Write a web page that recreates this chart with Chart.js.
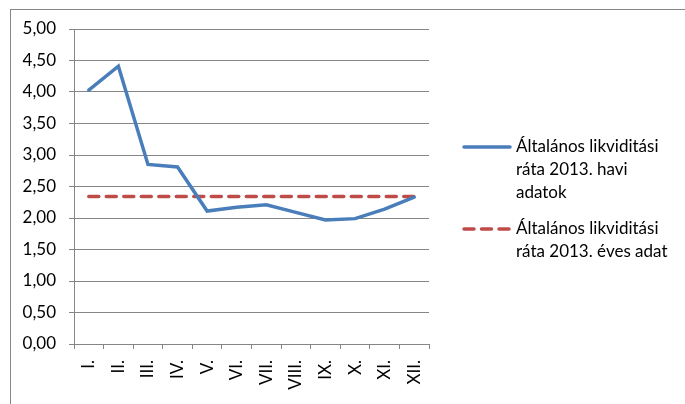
<!DOCTYPE html>
<html>
<head>
<meta charset="utf-8">
<script src="https://cdn.jsdelivr.net/npm/chart.js@4"></script>
<style>
  html, body { margin: 0; padding: 0; background: #fff; }
  #wrap { width: 685px; height: 404px; }
</style>
</head>
<body>
<div id="wrap"><canvas id="chart_plot"></canvas></div>
<script>
// hónapok és értékek
const months = ['I.', 'II.', 'III.', 'IV.', 'V.', 'VI.', 'VII.', 'VIII.', 'IX.', 'X.', 'XI.', 'XII.'];
const haviAdatok = [4.03, 4.41, 2.85, 2.81, 2.11, 2.17, 2.21, 2.09, 1.97, 1.99, 2.14, 2.33];
const evesAdat = [2.34, 2.34, 2.34, 2.34, 2.34, 2.34, 2.34, 2.34, 2.34, 2.34, 2.34, 2.34];
const seriesNames = [
    ['Általános likviditási', 'ráta 2013. havi', 'adatok'],
    ['Általános likviditási', 'ráta 2013. éves adat']
];
const yTicks = [0, 0.5, 1, 1.5, 2, 2.5, 3, 3.5, 4, 4.5, 5];

const FONT = 'Lato, "Open Sans", sans-serif';
const gridColor = '#868686';

// keret a diagram körül
const frame = {
    id: 'frame',
    beforeDraw(chart) {
        const c = chart.ctx;
        c.save();
        c.strokeStyle = gridColor;
        c.lineWidth = 1;
        c.strokeRect(10.5, 9.5, 800, 600);
        c.restore();
    }
};

// többsoros jelmagyarázat
const legendBox = {
    id: 'legendBox',
    afterDraw(chart) {
        const c = chart.ctx;
        const starts = [147, 229];
        c.save();
        c.font = '17px ' + FONT;
        c.fillStyle = '#000';
        c.textBaseline = 'middle';
        chart.data.datasets.forEach(function(ds, i) {
            const y = starts[i];
            c.beginPath();
            c.strokeStyle = ds.borderColor;
            c.lineWidth = ds.borderWidth;
            c.lineCap = ds.borderCapStyle || 'butt';
            c.setLineDash(ds.borderDash || []);
            c.moveTo(464, y);
            c.lineTo(510, y);
            c.stroke();
            c.setLineDash([]);
            seriesNames[i].forEach(function(line, j) {
                c.fillText(line, 516, y + j * 23);
            });
        });
        c.restore();
    }
};

const ctx = document.getElementById('chart_plot');
new Chart(ctx, {
    type: 'line',
    data: {
        labels: months,
        datasets: [{
            label: seriesNames[0].join(' '),
            data: haviAdatok,
            borderColor: '#4A7EBB',
            borderWidth: 3.5,
            borderCapStyle: 'round',
            pointRadius: 0,
            tension: 0,
            fill: false
        }, {
            label: seriesNames[1].join(' '),
            data: evesAdat,
            borderColor: '#BE4B48',
            borderWidth: 3.5,
            borderDash: [10, 7.5],
            borderCapStyle: 'round',
            pointRadius: 0,
            tension: 0,
            fill: false
        }]
    },
    options: {
        responsive: true,
        maintainAspectRatio: false,
        animation: false,
        layout: { padding: { top: 29, right: 256, left: 0, bottom: 0 } },
        plugins: {
            legend: { display: false },
            tooltip: { enabled: false }
        },
        scales: {
            x: {
                offset: true,
                grid: {
                    offset: true,
                    drawOnChartArea: false,
                    color: gridColor,
                    tickLength: 5
                },
                border: { color: gridColor },
                ticks: {
                    color: '#000',
                    font: { family: FONT, size: 17 },
                    minRotation: 90,
                    maxRotation: 90,
                    padding: 11
                },
                afterFit(scale) { scale.height = 60; }
            },
            y: {
                min: 0,
                max: 5,
                afterBuildTicks(scale) {
                    scale.ticks = yTicks.map(function(v) { return { value: v }; });
                },
                grid: {
                    color: gridColor,
                    tickLength: 5
                },
                border: { color: gridColor },
                ticks: {
                    color: '#000',
                    font: { family: FONT, size: 17 },
                    padding: 13,
                    callback: function(v) { return v.toFixed(2).replace('.', ','); }
                },
                afterFit(scale) { scale.width = 74; }
            }
        }
    },
    plugins: [frame, legendBox]
});
</script>
</body>
</html>
